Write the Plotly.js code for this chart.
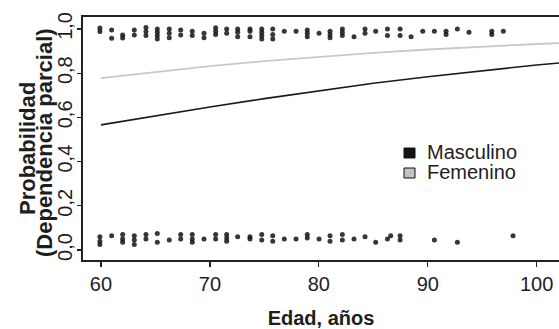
<!DOCTYPE html>
<html>
<head>
<meta charset="utf-8">
<script src="https://cdn.plot.ly/plotly-3.0.1.min.js"></script>
<style>html,body{margin:0;padding:0;background:#fff;}#chart{width:559px;height:329px;}</style>
</head>
<body>
<div id="chart"></div>
<script>
// Curves (partial dependence)
const curveAge = [60, 65, 70, 75, 80, 85, 90, 95, 100, 103];
const probMasculino = [0.566, 0.607, 0.647, 0.685, 0.721, 0.754, 0.784, 0.812, 0.837, 0.850];
const probFemenino = [0.778, 0.806, 0.832, 0.854, 0.874, 0.892, 0.907, 0.921, 0.932, 0.938];

// Observed outcomes (jittered) near 1
const ageTop = [
  59.9, 59.9, 60.98, 60.98, 61.99, 61.99, 63.06, 63.06,
  64.13, 64.13, 64.13, 65.17, 65.17, 65.17, 65.17, 66.27, 66.27, 66.27,
  67.32, 67.32, 68.38, 68.38, 69.46, 69.46, 70.53, 70.53, 70.53,
  71.54, 71.54, 72.55, 72.55, 72.55, 73.68, 73.68, 73.68,
  74.76, 74.76, 74.76, 74.76, 75.77, 75.77, 75.77, 76.83, 77.91,
  78.94, 78.94, 78.94, 80.02, 81.03, 81.03, 81.03, 82.16, 82.16, 82.16,
  83.23, 84.24, 84.24, 85.22, 86.3, 86.3, 87.46, 87.46, 88.47, 89.54,
  90.61, 91.68, 91.68, 92.72, 93.79, 95.88, 95.88, 96.94
];
const probTop = [
  1.004, 0.988, 0.995, 0.958, 0.973, 0.959, 0.995, 0.973,
  1.006, 0.988, 0.970, 1.000, 0.985, 0.970, 0.955, 1.000, 0.980, 0.960,
  0.995, 0.973, 0.990, 0.970, 0.980, 0.960, 1.005, 0.990, 0.975,
  1.000, 0.980, 1.000, 0.985, 0.965, 1.000, 0.990, 0.965,
  1.000, 0.985, 0.970, 0.955, 1.000, 0.975, 0.955, 0.990, 0.990,
  0.995, 0.980, 0.965, 0.980, 0.990, 0.975, 0.960, 1.000, 0.985, 0.970,
  0.965, 1.000, 0.980, 0.990, 1.000, 0.970, 1.000, 0.970, 0.965, 0.990,
  0.990, 0.990, 0.975, 1.000, 0.985, 0.990, 0.975, 0.990
];

// Observed outcomes (jittered) near 0
const ageBottom = [
  59.9, 59.9, 59.9, 60.98, 61.99, 61.99, 61.99, 63.06, 63.06, 63.06,
  64.13, 64.13, 65.17, 65.17, 66.27, 67.32, 67.32, 68.38, 68.38, 68.38,
  69.46, 70.53, 70.53, 71.54, 71.54, 71.54, 72.55, 73.68, 73.68,
  74.76, 74.76, 75.77, 75.77, 76.83, 77.91, 78.94, 78.94, 80.02,
  81.03, 81.03, 82.16, 82.16, 83.23, 84.24, 85.22, 86.3, 86.6,
  87.46, 87.46, 90.61, 92.72, 97.83
];
const probBottom = [
  0.060, 0.040, 0.025, 0.065, 0.070, 0.050, 0.035, 0.065, 0.045, 0.025,
  0.070, 0.050, 0.075, 0.035, 0.045, 0.070, 0.050, 0.070, 0.050, 0.035,
  0.050, 0.070, 0.050, 0.070, 0.055, 0.040, 0.060, 0.060, 0.050,
  0.070, 0.045, 0.065, 0.040, 0.050, 0.050, 0.070, 0.055, 0.050,
  0.065, 0.040, 0.070, 0.045, 0.050, 0.060, 0.035, 0.050, 0.065,
  0.065, 0.045, 0.045, 0.035, 0.065
];

const yTickVals = [0, 0.2, 0.4, 0.6, 0.8, 1.0];
const yTickText = ['0,0', '0,2', '0,4', '0,6', '0,8', '1,0'];
const xTickVals = [60, 70, 80, 90, 100];
const xTickText = ['60', '70', '80', '90', '100'];
const legendNames = ['Masculino', 'Femenino'];
const legendFill = ['#151515', '#c2c2c2'];

const W = 559, H = 329;
const M = {l: 83, r: 0, t: 17, b: 69};
const pxX = px => (px - M.l) / (W - M.l - M.r);
const pxY = py => (H - M.b - py) / (H - M.t - M.b);

const FONT = 'Liberation Sans, Arial, sans-serif';
const INK = '#1e1e1e';
const pointStyle = {size: 5, color: 'rgba(20,20,20,0.85)'};

const traces = [
  {x: curveAge, y: probFemenino, mode: 'lines', name: 'Femenino', line: {color: '#c8c8c8', width: 1.8}, showlegend: false, hoverinfo: 'skip'},
  {x: curveAge, y: probMasculino, mode: 'lines', name: 'Masculino', line: {color: '#1a1a1a', width: 1.6}, showlegend: false, hoverinfo: 'skip'},
  {x: ageTop, y: probTop, mode: 'markers', marker: pointStyle, showlegend: false},
  {x: ageBottom, y: probBottom, mode: 'markers', marker: pointStyle, showlegend: false}
];

// legend drawn as text + squares (tight line spacing as in the reference)
const legendRowsPx = [152, 172];
const annotations = legendNames.map((n, i) => ({
  xref: 'paper', yref: 'paper', x: pxX(425), y: pxY(legendRowsPx[i]),
  xanchor: 'left', yanchor: 'middle', showarrow: false, text: n,
  font: {family: FONT, size: 20, color: INK}
}));
annotations.push(
  {xref: 'paper', yref: 'paper', x: pxX(27), y: pxY(149), xanchor: 'center', yanchor: 'middle',
   showarrow: false, textangle: -90, text: 'Probabilidad',
   font: {family: FONT, size: 22, color: INK, weight: 'bold'}},
  {xref: 'paper', yref: 'paper', x: pxX(44), y: pxY(143), xanchor: 'center', yanchor: 'middle',
   showarrow: false, textangle: -90, text: '(Dependencia parcial)',
   font: {family: FONT, size: 22, color: INK, weight: 'bold'}}
);
const shapes = legendNames.map((n, i) => ({
  type: 'rect', xref: 'paper', yref: 'paper',
  x0: pxX(404), x1: pxX(415), y0: pxY(legendRowsPx[i] + 1 - 5), y1: pxY(legendRowsPx[i] + 1 + 5),
  fillcolor: legendFill[i], line: {color: '#111', width: 1}
}));

const layout = {
  width: W, height: H,
  margin: M,
  paper_bgcolor: '#fff', plot_bgcolor: '#fff',
  font: {family: FONT, size: 20, color: INK},
  xaxis: {
    range: [58.35, 102.05], tickvals: xTickVals, ticktext: xTickText,
    showgrid: false, zeroline: false, showline: true, linecolor: '#222', linewidth: 2,
    mirror: true, ticks: 'outside', ticklen: 5, tickwidth: 1.3, tickcolor: '#222',
    tickfont: {family: FONT, size: 20, color: INK},
    title: {text: 'Edad, años', font: {family: FONT, size: 20, color: INK, weight: 'bold'}, standoff: 18}
  },
  yaxis: {
    range: [-0.045, 1.054], tickvals: yTickVals, ticktext: yTickText, tickangle: -90,
    showgrid: false, zeroline: false, showline: true, linecolor: '#222', linewidth: 2,
    ticks: 'outside', ticklen: 4, tickwidth: 1.3, tickcolor: '#222', ticklabelstandoff: -3,
    tickfont: {family: FONT, size: 20, color: INK}
  },
  annotations: annotations,
  shapes: shapes,
  showlegend: false
};

Plotly.newPlot('chart', traces, layout, {staticPlot: true, displayModeBar: false});
</script>
</body>
</html>
